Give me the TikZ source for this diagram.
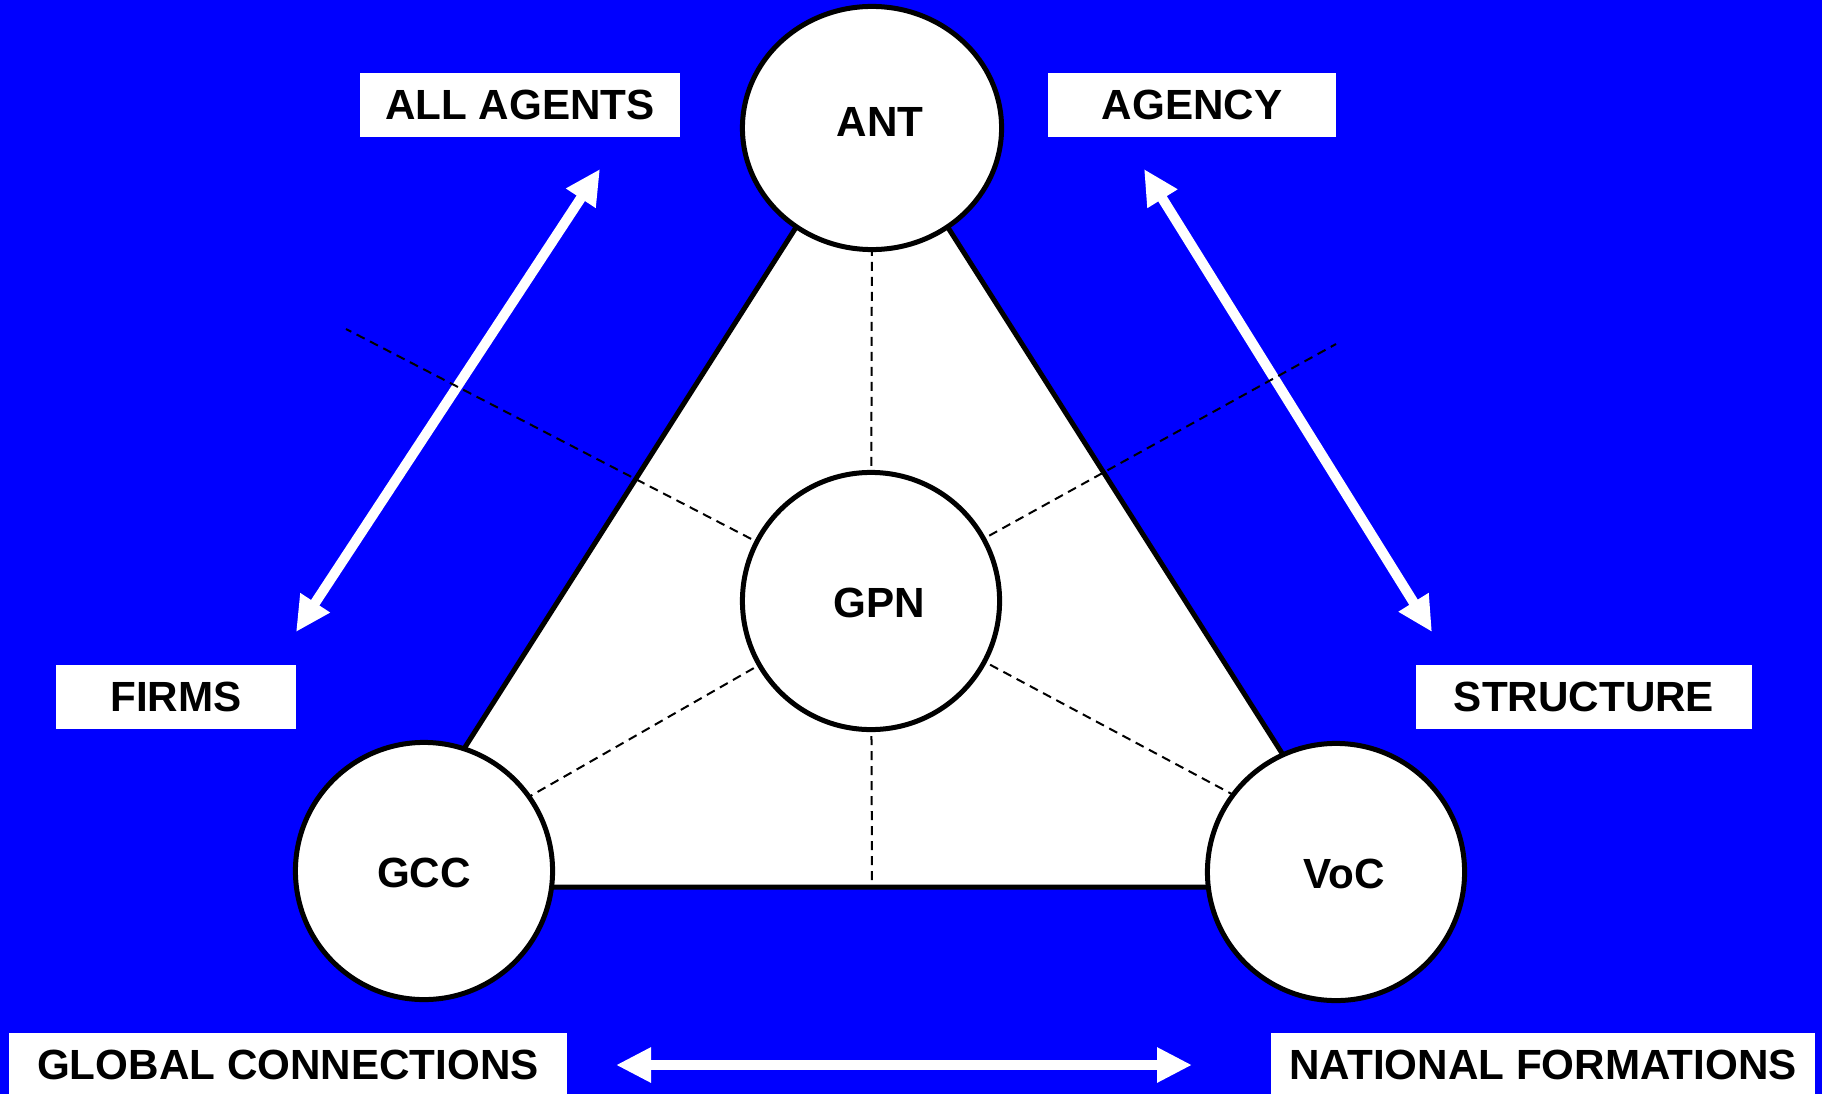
\documentclass[tikz,border=0pt]{standalone}
\usepackage{fontspec}
\setmainfont{Liberation Sans}
\usetikzlibrary{arrows.meta,shapes.geometric}
\definecolor{bgblue}{HTML}{0000FF}
\begin{document}
\begin{tikzpicture}[x=0.01cm,y=-0.01cm,
  txt/.style={font=\fontsize{12}{14}\selectfont\bfseries,text=black},
  circ/.style={circle,draw=black,fill=white,line width=0.5mm,minimum size=2.57cm,inner sep=0pt,txt},
  ellip/.style={ellipse,draw=black,fill=white,line width=0.5mm,minimum width=2.59cm,minimum height=2.43cm,inner sep=0pt,txt},
  inlab/.style={label={[txt,inner sep=0pt,xshift=0.8mm,yshift=#1]center:}},
  lab/.style={rectangle,fill=white,inner sep=0pt,txt},
  warrow/.style={draw=white,line width=1mm,{Triangle[length=3.5mm,width=3.3mm]}-{Triangle[length=3.5mm,width=3.3mm]}},
  dline/.style={draw=black,line width=0.2mm,dash pattern=on 0.9mm off 0.6mm},
  tri/.style={draw=black,fill=white,line width=0.5mm,line join=miter}]
\useasboundingbox (0,0) rectangle (1822,1094);
\fill[bgblue] (0,0) rectangle (1822,1094);
% triangle
\coordinate (tA) at (872,108);
\coordinate (tL) at (376,887);
\coordinate (tR) at (1367,887);
\draw[tri] (tL) -- (tA) -- (tR) -- cycle;
% arrows
\coordinate (la1) at (600,169);
\coordinate (la2) at (296,632);
\coordinate (ra1) at (1144,169);
\coordinate (ra2) at (1432,632);
\coordinate (ba1) at (616,1065);
\coordinate (ba2) at (1192,1065);
\draw[warrow] (la2) -- (la1);
\draw[warrow] (ra1) -- (ra2);
\draw[warrow] (ba1) -- (ba2);
% dashed lines
\coordinate (gpnc) at (871,601);
\coordinate (dUL) at (346,329);
\coordinate (dUR) at (1336,344);
\coordinate (dB) at (872,888);
\coordinate (dLL) at (485,822);
\coordinate (dLR) at (1286,823);
\coordinate (dU) at (872,200);
\draw[dline] (gpnc) -- (dUL);
\draw[dline] (gpnc) -- (dUR);
\draw[dline] (gpnc) -- (dB);
\draw[dline] (gpnc) -- (dLL);
\draw[dline] (gpnc) -- (dLR);
\draw[dline] (gpnc) -- (dU);
% circles
\node[ellip,label={[txt,inner sep=0pt,xshift=0.8mm,yshift=0.6mm]center:ANT}] (ANT) at (872,128) {};
\node[circ,label={[txt,inner sep=0pt,xshift=0.8mm,yshift=-0.2mm]center:GPN}] (GPN) at (871,601) {};
\node[circ,label={[txt,inner sep=0pt,yshift=-0.2mm]center:GCC}] (GCC) at (424,871) {};
\node[circ,label={[txt,inner sep=0pt,xshift=0.8mm,yshift=-0.2mm]center:VoC}] (VoC) at (1336,872) {};
% labels
\node[lab,minimum width=3.2cm,minimum height=0.64cm] (allag) at (520,105) {ALL AGENTS};
\node[lab,minimum width=2.88cm,minimum height=0.64cm] (agency) at (1192,105) {AGENCY};
\node[lab,minimum width=2.4cm,minimum height=0.64cm] (firms) at (176,697) {FIRMS};
\node[lab,minimum width=3.36cm,minimum height=0.64cm] (struct) at (1584,697) {STRUCTURE};
\node[lab,minimum width=5.58cm,minimum height=0.64cm] (glob) at (288,1065) {GLOBAL CONNECTIONS};
\node[lab,minimum width=5.43cm,minimum height=0.64cm] (natf) at (1543,1065) {NATIONAL FORMATIONS};
\end{tikzpicture}
\end{document}
